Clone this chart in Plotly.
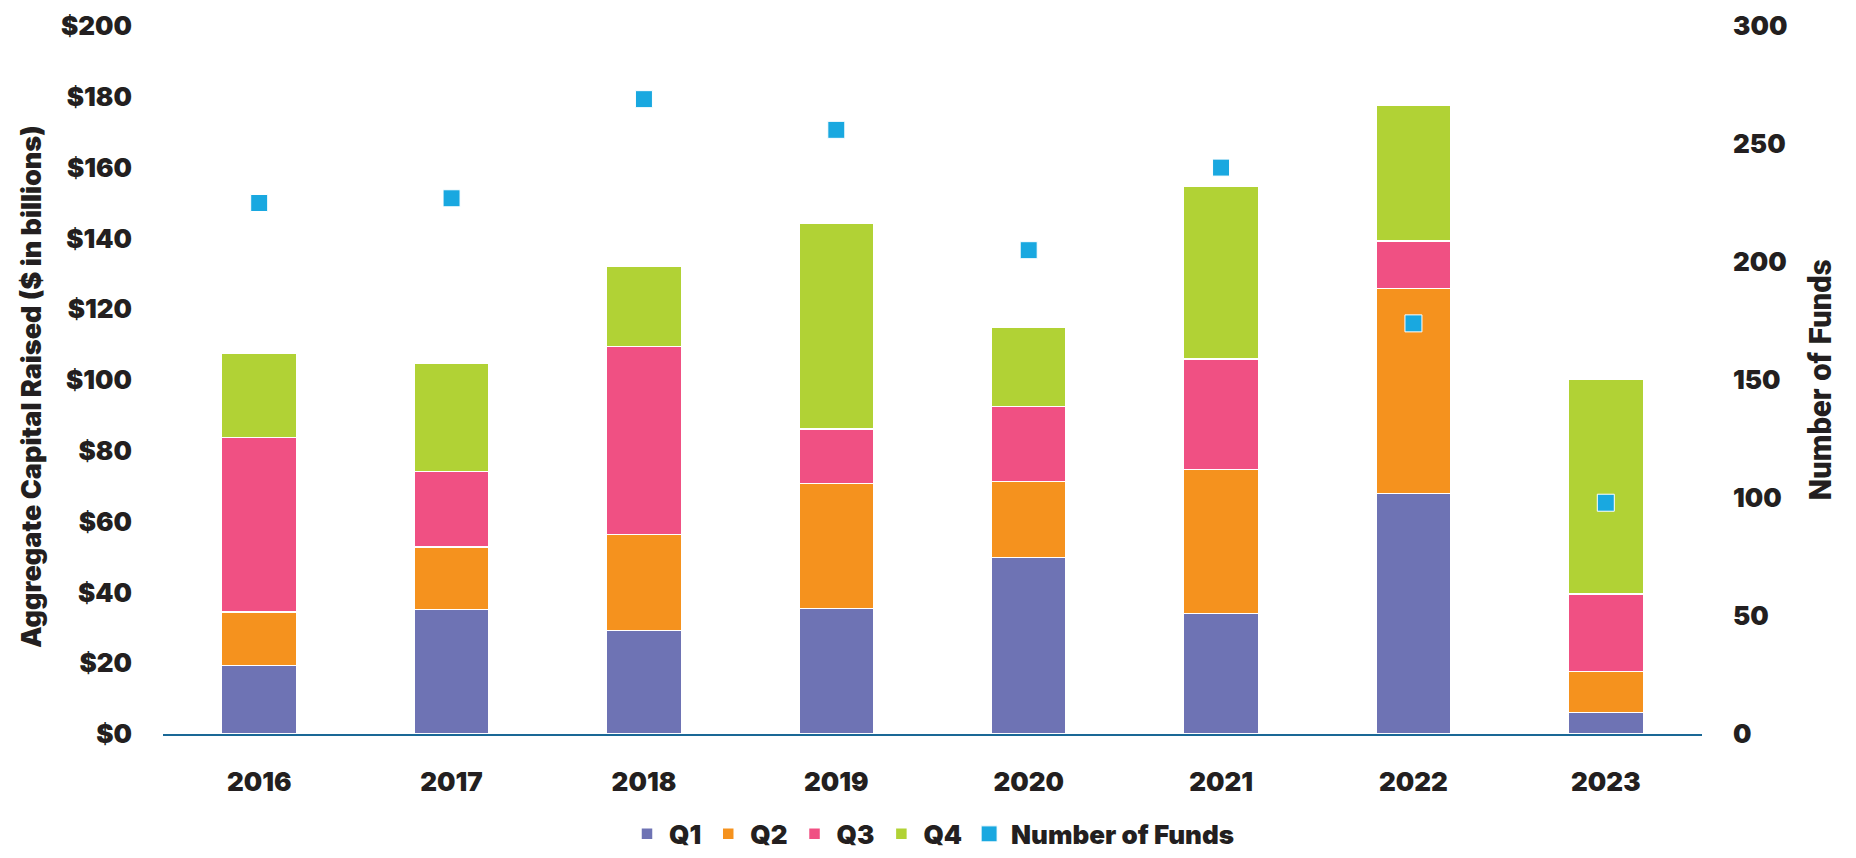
import plotly.graph_objects as go

years = ["2016", "2017", "2018", "2019", "2020", "2021", "2022", "2023"]
q1 = [19.4, 35.2, 29.2, 35.4, 49.8, 34.0, 67.9, 6.1]
q2 = [15.0, 17.6, 27.2, 35.3, 21.5, 40.7, 57.9, 11.6]
q3 = [49.3, 21.3, 53.0, 15.4, 21.2, 31.2, 13.4, 21.9]
q4 = [23.9, 30.6, 22.6, 58.1, 22.5, 48.9, 38.3, 60.7]
num_funds = [225, 227, 269, 256, 205, 240, 174, 98]

font_family = "Inter"
ink = "#231F20"

fig = go.Figure()

bars = [("Q1", q1, "#6E73B4"), ("Q2", q2, "#F5921E"),
        ("Q3", q3, "#F05083"), ("Q4", q4, "#B1D235")]
for name, vals, col in bars:
    fig.add_trace(go.Bar(x=years, y=vals, name=name,
                         marker=dict(color=col, line=dict(color="white", width=1.5))))

fig.add_trace(go.Scatter(x=years, y=num_funds, name="Number of Funds", mode="markers",
                         yaxis="y2",
                         marker=dict(symbol="square", size=17, color="#19A8E0",
                                     line=dict(color="white", width=1))))

# left axis title as an annotation so it can sit further out
fig.add_annotation(text="Aggregate Capital Raised ($ in billions)", textangle=-90,
                   xref="paper", yref="paper", x=-0.086, y=0.49,
                   xanchor="center", yanchor="middle", showarrow=False,
                   font=dict(size=27, color=ink, weight=900))

# page body adds an 8px margin, so the figure is sized to fit inside it
fig.update_layout(
    template="none",
    width=1840, height=842,
    margin=dict(l=155, r=146, t=18, b=116, autoexpand=False),
    paper_bgcolor="white", plot_bgcolor="white",
    barmode="stack", bargap=0.61,
    font=dict(family=font_family, size=26, color=ink, weight=900),
    showlegend=True,
    legend=dict(orientation="h", x=0.5, xanchor="center", y=-0.108, yanchor="top",
                font=dict(size=26, color=ink, weight=900), traceorder="normal",
                itemwidth=34),
    xaxis=dict(type="category", showline=True, linecolor="#1A6896", linewidth=2,
               showgrid=False, ticks="", ticklabelstandoff=24, automargin=False,
               tickfont=dict(size=26, weight=900)),
    yaxis=dict(range=[0, 200], dtick=20, tickprefix="$", showgrid=False,
               zeroline=False, ticks="", ticklabelstandoff=30, automargin=False,
               ticklabeloverflow="allow",
               tickfont=dict(size=26, weight=900)),
    yaxis2=dict(range=[0, 300], dtick=50, overlaying="y", side="right",
                showgrid=False, zeroline=False, ticks="", ticklabelstandoff=30,
                automargin=False, ticklabeloverflow="allow",
                tickfont=dict(size=26, weight=900),
                title=dict(text="Number of Funds",
                           font=dict(family="Roboto", size=31, weight=900),
                           standoff=22)),
)

fig.write_html("out.html")
